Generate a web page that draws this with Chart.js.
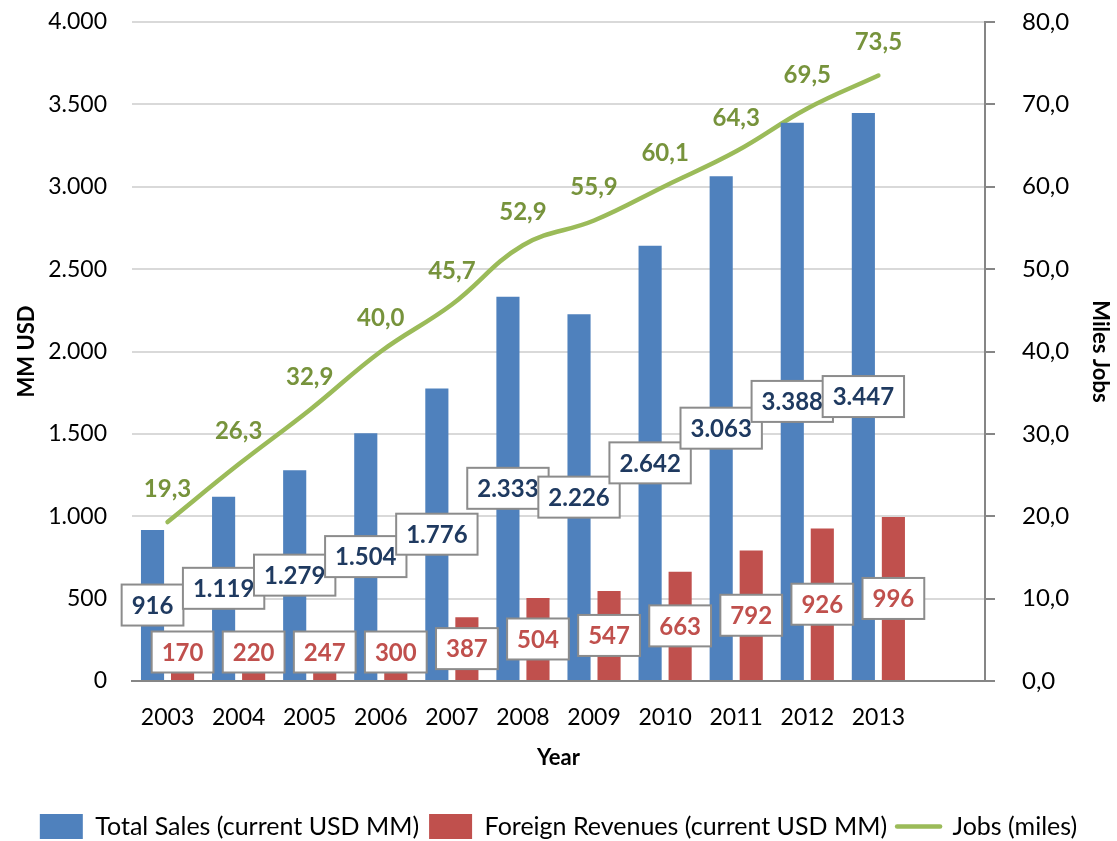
<!DOCTYPE html>
<html>
<head>
<meta charset="utf-8">
<script src="https://cdn.jsdelivr.net/npm/chart.js@4.4.1/dist/chart.umd.min.js"></script>
<style>
  html, body { margin: 0; padding: 0; background: #fff; }
  #wrap { width: 1117px; height: 841px; }
</style>
</head>
<body>
<div id="wrap"><canvas id="salesChart" width="1117" height="841"></canvas></div>
<script>
// datos
const years = ['2003', '2004', '2005', '2006', '2007', '2008', '2009', '2010', '2011', '2012', '2013', ''];
const totalSales = [916, 1119, 1279, 1504, 1776, 2333, 2226, 2642, 3063, 3388, 3447];
const foreignRevenues = [170, 220, 247, 300, 387, 504, 547, 663, 792, 926, 996];
const jobs = [19.3, 26.3, 32.9, 40.0, 45.7, 52.9, 55.9, 60.1, 64.3, 69.5, 73.5];

const FONT = 'Lato';
const BLUE = '#4F81BD';
const RED = '#C0504D';
const GREEN = '#9BBB59';
const GREEN_TEXT = '#77933C';
const NAVY = '#1F3A60';
const AXIS_GRAY = '#868686';

// formato europeo: 1.119 / 19,3
function fmtThousands(v) {
    return String(Math.round(v)).replace(/\B(?=(\d{3})+(?!\d))/g, '.');
}
function fmtOneDec(v) {
    return Number(v).toFixed(1).replace('.', ',');
}

// etiquetas con caja blanca para las barras y texto verde para la línea
const labelPlugin = {
    id: 'boxLabels',
    afterDatasetsDraw(chart) {
        const ctx = chart.ctx;
        ctx.save();
        ctx.font = 'bold 24px ' + FONT;
        ctx.textAlign = 'center';
        ctx.textBaseline = 'middle';

        [0, 1].forEach(di => {
            const meta = chart.getDatasetMeta(di);
            const values = chart.data.datasets[di].data;
            meta.data.forEach((bar, i) => {
                const v = values[i];
                if (v == null) return;
                const text = fmtThousands(v);
                const cy = Math.min((bar.y + bar.base) / 2, bar.base - 28);
                const w = ctx.measureText(text).width + 20;
                const h = 41;
                ctx.fillStyle = '#fff';
                ctx.fillRect(bar.x - w / 2, cy - h / 2, w, h);
                ctx.lineWidth = 2;
                ctx.strokeStyle = '#8c8c8c';
                ctx.strokeRect(bar.x - w / 2, cy - h / 2, w, h);
                ctx.fillStyle = di === 0 ? NAVY : RED;
                ctx.fillText(text, bar.x, cy + 1);
            });
        });

        const lineMeta = chart.getDatasetMeta(2);
        ctx.fillStyle = GREEN_TEXT;
        lineMeta.data.forEach((pt, i) => {
            const v = chart.data.datasets[2].data[i];
            if (v == null) return;
            ctx.fillText(fmtOneDec(v), pt.x, pt.y - 33);
        });
        ctx.restore();
    }
};

const ctx = document.getElementById('salesChart');
new Chart(ctx, {
    type: 'bar',
    data: {
        labels: years,
        datasets: [
            {
                label: 'Total Sales (current USD MM)',
                data: totalSales,
                backgroundColor: BLUE,
                borderWidth: 0,
                yAxisID: 'y',
                categoryPercentage: 0.845,
                barPercentage: 0.77
            },
            {
                label: 'Foreign Revenues (current USD MM)',
                data: foreignRevenues,
                backgroundColor: RED,
                borderWidth: 0,
                yAxisID: 'y',
                categoryPercentage: 0.845,
                barPercentage: 0.77
            },
            {
                type: 'line',
                label: 'Jobs (miles)',
                data: jobs,
                borderColor: GREEN,
                backgroundColor: GREEN,
                borderWidth: 4.5,
                borderCapStyle: 'round',
                pointRadius: 0,
                tension: 0.4,
                yAxisID: 'y1'
            }
        ]
    },
    options: {
        responsive: false,
        animation: false,
        devicePixelRatio: 1,
        layout: { padding: { top: 22, right: 0, bottom: -8, left: 0 } },
        plugins: {
            tooltip: { enabled: false },
            legend: {
                position: 'bottom',
                labels: {
                    font: { family: FONT, size: 25 },
                    color: '#000',
                    usePointStyle: true,
                    pointStyleWidth: 43,
                    padding: 10,
                    generateLabels(chart) {
                        const items = Chart.defaults.plugins.legend.labels.generateLabels(chart);
                        return items.map(it => {
                            if (it.datasetIndex === 2) {
                                it.pointStyle = 'line';
                                it.lineWidth = 4.5;
                                it.strokeStyle = GREEN;
                                it.lineCap = 'round';
                            } else {
                                it.pointStyle = 'rect';
                                it.lineWidth = 0;
                                it.strokeStyle = it.fillStyle;
                            }
                            return it;
                        });
                    }
                }
            }
        },
        scales: {
            x: {
                offset: true,
                grid: { display: false },
                border: { display: true, color: AXIS_GRAY, width: 2 },
                ticks: { font: { family: FONT, size: 23 }, color: '#000', padding: 15, maxRotation: 0, autoSkip: false },
                title: {
                    display: true,
                    text: 'Year',
                    font: { family: FONT, size: 22, weight: 'bold' },
                    color: '#000',
                    padding: { top: 0, bottom: 33 }
                },
                afterFit(scale) { scale.height = 123; }
            },
            y: {
                position: 'left',
                min: 0,
                max: 4000,
                ticks: {
                    stepSize: 500,
                    font: { family: FONT, size: 23 },
                    color: '#000',
                    padding: 5,
                    callback: v => fmtThousands(v)
                },
                grid: { color: '#D9D9D9', lineWidth: 2, drawTicks: true, tickLength: 20, tickColor: 'rgba(0,0,0,0)' },
                border: { display: false },
                title: {
                    display: true,
                    text: 'MM USD',
                    font: { family: FONT, size: 22, weight: 'bold' },
                    color: '#000',
                    padding: { top: 14, bottom: 0 }
                },
                afterFit(scale) { scale.width = 132; }
            },
            y1: {
                position: 'right',
                min: 0,
                max: 80,
                ticks: {
                    stepSize: 10,
                    font: { family: FONT, size: 24 },
                    color: '#000',
                    padding: 7,
                    callback: v => fmtOneDec(v)
                },
                grid: {
                    drawOnChartArea: false,
                    drawTicks: true,
                    tickLength: 30,
                    tickBorderDash: [9, 40],
                    color: AXIS_GRAY,
                    lineWidth: 2
                },
                border: { display: true, color: AXIS_GRAY, width: 2 },
                title: {
                    display: true,
                    text: 'Miles Jobs',
                    font: { family: FONT, size: 22, weight: 'bold' },
                    color: '#000',
                    padding: { top: 4, bottom: 0 }
                },
                afterFit(scale) { scale.width = 132; }
            }
        }
    },
    plugins: [labelPlugin]
});
</script>
</body>
</html>
